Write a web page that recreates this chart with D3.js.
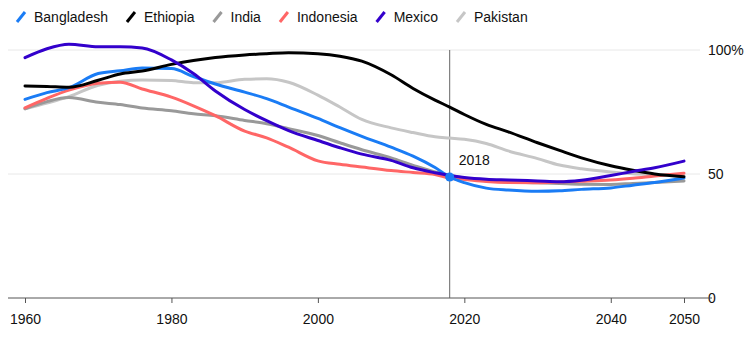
<!DOCTYPE html>
<html>
<head>
<meta charset="utf-8">
<script src="https://cdn.jsdelivr.net/npm/d3@7"></script>
<style>
  body { margin: 0; background: #fff; }
  svg text { font-family: "Liberation Sans", Arial, sans-serif; fill: #111; }
</style>
</head>
<body>
<svg id="chart" width="745" height="342"></svg>
<script>
// years the series are sampled at
const years = [1960, 1963, 1966, 1970, 1973, 1976, 1980, 1983, 1986, 1990, 1993, 1996, 2000, 2003,
  2006, 2010, 2013, 2016, 2018, 2020, 2023, 2026, 2030, 2033, 2036, 2040, 2043, 2046, 2050];

// one value per year, percent
const bangladesh = [80.1, 82.8, 84.8, 90.5, 91.6, 92.7, 92.5, 89.3, 86.3, 83, 80.4, 77, 72.4, 68.7,
  65.2, 60.8, 57.2, 52.6, 48.8, 46.5, 44.3, 43.5, 43, 43.2, 43.8, 44.4, 45.5, 46.6, 48.4];
const ethiopia = [85.5, 85.3, 85, 87.8, 90.3, 91.5, 94.2, 95.8, 97, 98, 98.5, 98.9, 98.5, 97.5,
  95.5, 90, 84.5, 79.8, 77, 74, 70, 67, 62.6, 59.5, 56.5, 53.3, 51.5, 50, 48.9];
const india = [76.3, 79.2, 80.8, 78.9, 78, 76.6, 75.5, 74.3, 73.5, 71.6, 70.3, 68.3, 65.5, 62.6,
  59.8, 56.5, 53.5, 50.8, 49.5, 48.3, 47.3, 46.8, 46.5, 46.2, 45.9, 45.8, 46.2, 46.6, 47.2];
const indonesia = [76.7, 80.5, 83.8, 86.6, 87, 84.3, 81, 77.5, 73.5, 67.3, 64.6, 60.8, 55.3, 53.9,
  52.8, 51.4, 50.6, 49.8, 48.3, 47.8, 47, 46.6, 46.5, 46.8, 47.1, 47.6, 48.3, 49.2, 50.3];
const mexico = [96.9, 100.5, 102.3, 101.3, 101.3, 100.8, 96, 90.5, 83.5, 76, 71.5, 67.5, 63.5, 60.6,
  58, 55.5, 52.5, 50.5, 49.4, 48.6, 47.9, 47.6, 47.2, 46.9, 47.5, 49.4, 51, 52.5, 55.2];
const pakistan = [76.3, 78.6, 81.2, 85.8, 87.4, 87.9, 87.7, 86.8, 86.8, 88.2, 88.4, 87, 81.8, 77,
  72, 68.6, 66.7, 65, 64.5, 64, 62.3, 59.3, 56.2, 53.6, 52.1, 50.8, 50.1, 49.7, 49.2];

const countries = ["Bangladesh", "Ethiopia", "India", "Indonesia", "Mexico", "Pakistan"];
const colors = ["#1a7cf5", "#000000", "#999999", "#ff6666", "#3300cc", "#c6c6c6"];
const xTicks = [1960, 1980, 2000, 2020, 2040, 2050];
const yTicks = [0, 50, 100];
const markYear = 2018;

const seriesValues = [bangladesh, ethiopia, india, indonesia, mexico, pakistan];
const series = countries.map((name, i) => ({
  name: name,
  color: colors[i],
  values: years.map((yr, j) => ({ year: yr, value: seriesValues[i][j] }))
}));

const svg = d3.select("#chart");

const x = d3.scaleLinear().domain([1960, 2050]).range([25, 684]);
const y = d3.scaleLinear().domain([0, 100]).range([298, 50]);

// light gridlines at 50 and 100
svg.append("g")
  .selectAll("line")
  .data(yTicks.filter(d => d > 0))
  .join("line")
  .attr("x1", 8).attr("x2", 700)
  .attr("y1", d => y(d)).attr("y2", d => y(d))
  .attr("stroke", "#e8e8e8")
  .attr("stroke-width", 1);

// y labels on the right
svg.append("g")
  .selectAll("text")
  .data(yTicks)
  .join("text")
  .attr("x", 708)
  .attr("y", d => y(d))
  .attr("dy", "0.35em")
  .attr("font-size", 14)
  .text(d => d === 100 ? "100%" : d);

// x axis
const xAxis = svg.append("g")
  .attr("transform", `translate(0,${y(0)})`)
  .call(d3.axisBottom(x).tickValues(xTicks).tickFormat(d3.format("d")).tickSize(5).tickSizeOuter(0));
xAxis.select(".domain").remove();
xAxis.selectAll(".tick line").attr("stroke", "#555");
xAxis.selectAll(".tick text")
  .attr("font-size", 14)
  .attr("font-family", "Liberation Sans, Arial, sans-serif")
  .attr("fill", "#111")
  .attr("dy", "1.25em");
svg.append("line")
  .attr("x1", 8).attr("x2", 712)
  .attr("y1", y(0)).attr("y2", y(0))
  .attr("stroke", "#555")
  .attr("stroke-width", 1);

// 2018 marker line
svg.append("line")
  .attr("x1", x(markYear)).attr("x2", x(markYear))
  .attr("y1", y(100)).attr("y2", y(0))
  .attr("stroke", "#666")
  .attr("stroke-width", 1);

const line = d3.line()
  .x(d => x(d.year))
  .y(d => y(d.value))
  .curve(d3.curveMonotoneX);

const drawOrder = ["Pakistan", "India", "Indonesia", "Bangladesh", "Ethiopia", "Mexico"];
svg.append("g")
  .selectAll("path")
  .data(drawOrder.map(n => series.find(s => s.name === n)))
  .join("path")
  .attr("fill", "none")
  .attr("stroke", d => d.color)
  .attr("stroke-width", 3)
  .attr("stroke-linejoin", "round")
  .attr("stroke-linecap", "round")
  .attr("d", d => line(d.values));

svg.append("text")
  .attr("x", x(markYear) + 9)
  .attr("y", 165)
  .attr("font-size", 14)
  .text(markYear);

// dot on Bangladesh at 2018
const bdMark = series[0].values.find(d => d.year === markYear);
svg.append("circle")
  .attr("cx", x(bdMark.year))
  .attr("cy", y(bdMark.value))
  .attr("r", 4.5)
  .attr("fill", colors[0]);

// legend along the top
const legend = svg.append("g").attr("transform", "translate(16,17)");
let lx = 0;
series.forEach(s => {
  const item = legend.append("g").attr("transform", `translate(${lx},0)`);
  item.append("line")
    .attr("x1", 1).attr("y1", 5)
    .attr("x2", 9).attr("y2", -5)
    .attr("stroke", s.color)
    .attr("stroke-width", 3);
  const t = item.append("text")
    .attr("x", 18)
    .attr("dy", "0.35em")
    .attr("font-size", 14)
    .text(s.name);
  lx += 18 + t.node().getComputedTextLength() + 18;
});
</script>
</body>
</html>
